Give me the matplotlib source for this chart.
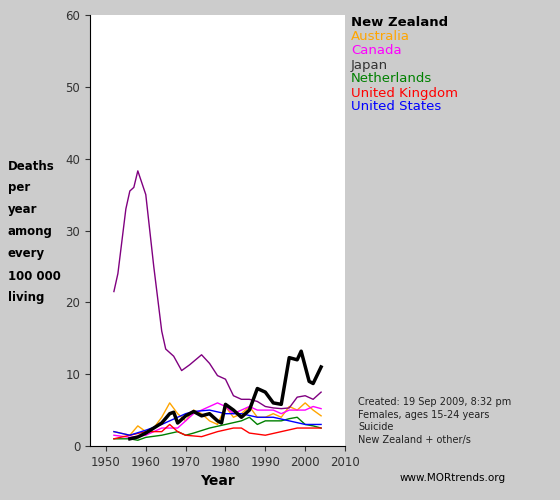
import matplotlib
matplotlib.use("Agg")
import matplotlib.pyplot as plt

jp_x = [1952,1953,1955,1956,1957,1958,1960,1962,1964,1965,1967,1969,1971,1974,1976,1978,1980,1982,1984,1986,1988,1990,1992,1994,1996,1998,2000,2002,2004]
jp_y = [21.5,24,33,35.5,36,38.3,35,25,16,13.5,12.5,10.5,11.3,12.7,11.5,9.8,9.3,7,6.5,6.5,6.2,5.5,5.3,5.2,5.3,6.8,7,6.5,7.5]
nz_x = [1956,1958,1960,1962,1964,1966,1967,1968,1970,1972,1974,1976,1978,1979,1980,1982,1984,1986,1988,1990,1992,1994,1996,1998,1999,2001,2002,2004]
nz_y = [1.0,1.25,1.8,2.5,3.2,4.5,4.7,3.2,4.2,4.8,4.2,4.5,3.5,3.2,5.8,5.0,4.0,5.0,8.0,7.5,6.0,5.8,12.3,12.0,13.2,9.0,8.7,11.0]
au_x = [1952,1956,1958,1960,1962,1964,1966,1968,1970,1972,1974,1976,1978,1980,1982,1984,1986,1988,1990,1992,1994,1996,1998,2000,2002,2004]
au_y = [2,1.5,2.8,2,2.5,4,6,4.5,3.5,5,4.5,3.5,3,5.5,4,4.5,5.5,4,4,4.5,4,5.5,5,6,5,4.2]
ca_x = [1952,1956,1960,1964,1968,1970,1972,1974,1976,1978,1980,1982,1984,1986,1988,1990,1992,1994,1996,1998,2000,2002,2004]
ca_y = [1.5,1.2,1.5,2.5,2.5,3.5,4.5,5,5.5,6,5.5,4.5,5,5.5,5,5,5,4.5,5,5,5,5.5,5.2]
nl_x = [1952,1956,1958,1960,1964,1968,1970,1972,1976,1980,1984,1986,1988,1990,1994,1996,1998,2000,2002,2004]
nl_y = [1,1,0.8,1.2,1.5,2,1.5,1.8,2.5,3,3.5,4,3,3.5,3.5,3.8,4,3,2.8,2.5]
uk_x = [1952,1956,1960,1964,1966,1968,1970,1974,1978,1982,1984,1986,1990,1994,1998,2000,2004]
uk_y = [1,1.5,2,2,3,2,1.5,1.3,2,2.5,2.5,1.8,1.5,2,2.5,2.5,2.5]
us_x = [1952,1956,1960,1964,1968,1970,1972,1976,1980,1984,1988,1992,1996,2000,2004]
us_y = [2,1.5,2.2,3,4,4.5,4.8,5,4.5,4.5,4,4,3.5,3,3]

names = ["New Zealand","Australia","Canada","Japan","Netherlands","United Kingdom","United States"]
txtcolors = ["black","orange","magenta","#333333","green","red","blue"]

bg = "#cccccc"
fig = plt.figure(figsize=(5.6,5.0), dpi=100, facecolor=bg)
ax = fig.add_axes([90/560, 54/500, 255/560, 431/500])
ax.set_facecolor("white")
series = [(au_x,au_y,"orange"),(ca_x,ca_y,"magenta"),(jp_x,jp_y,"#800080"),
          (nl_x,nl_y,"green"),(uk_x,uk_y,"red"),(us_x,us_y,"blue")]
for x,y,c in series:
    ax.plot(x,y,color=c,lw=1)
ax.plot(nz_x,nz_y,color="black",lw=2.5)
ax.set_xlim(1946,2010)
ax.set_ylim(0,60)
ax.set_xticks(range(1950,2011,10))
ax.set_yticks(range(0,61,10))
ax.tick_params(labelsize=8.5, colors="#333333", direction="out")
for s in ["top","right"]:
    ax.spines[s].set_visible(False)
ax.set_xlabel("Year", fontsize=10, fontweight="bold")

for i,(n,c) in enumerate(zip(names,txtcolors)):
    fig.text(351/560, 1-(23+14*i)/500, n, color=c, fontsize=9.5,
             fontweight="bold" if i==0 else "normal", va="center")
for i,w in enumerate(["Deaths","per","year","among","every","100 000","living"]):
    fig.text(8/560, 1-(166+22*i)/500, w, fontsize=8.5, fontweight="bold", va="center")
for i,w in enumerate(["Created: 19 Sep 2009, 8:32 pm","Females, ages 15-24 years","Suicide","New Zealand + other/s"]):
    fig.text(358/560, 1-(402+12.5*i)/500, w, fontsize=7, va="center", color="#222222")
fig.text(400/560, 1-478/500, "www.MORtrends.org", fontsize=7.5, va="center")
fig.savefig("out.png", dpi=100, facecolor=bg)
